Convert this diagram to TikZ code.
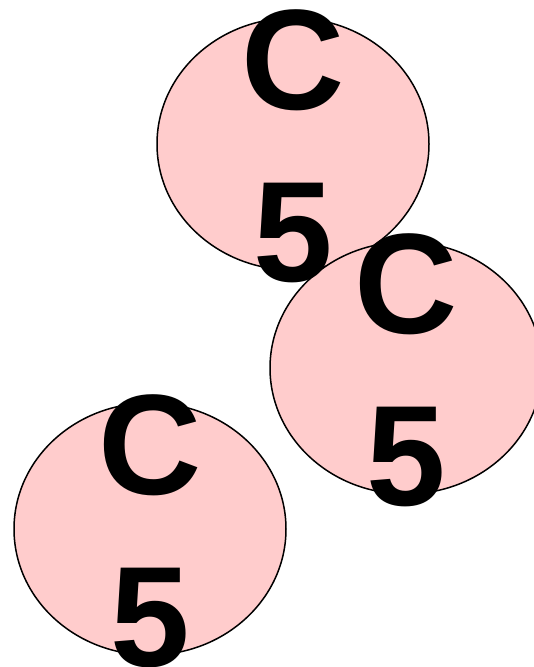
\documentclass[tikz,border=0pt]{standalone}
\usepackage{fontspec}
\setmainfont{Liberation Sans}
\usetikzlibrary{shapes.geometric}
\definecolor{pinkfill}{HTML}{FFCCCC}
\tikzset{
  blob/.style={ellipse, draw=black, line width=1.5pt, fill=pinkfill,
    minimum width=272pt, minimum height=252pt, inner sep=0pt},
  lbl/.style={font=\fontsize{143}{172}\selectfont\bfseries, inner sep=0pt, anchor=base}
}
\begin{document}
\begin{tikzpicture}[x=1pt,y=-1pt]
\useasboundingbox (0,0) rectangle (534,667);
\node[blob] (c1) at (293,144) {};
\node[blob] (c2) at (406,368) {};
\node[blob] (c3) at (150,529) {};
\node[lbl] (c1top) at ([yshift=35pt]c1.center) {C};
\node[lbl] (c1bot) at ([yshift=-137pt]c1.center) {5};
\node[lbl] (c2top) at ([yshift=35pt]c2.center) {C};
\node[lbl] (c2bot) at ([yshift=-137pt]c2.center) {5};
\node[lbl] (c3top) at ([yshift=35pt]c3.center) {C};
\node[lbl] (c3bot) at ([yshift=-137pt]c3.center) {5};
\end{tikzpicture}
\end{document}
